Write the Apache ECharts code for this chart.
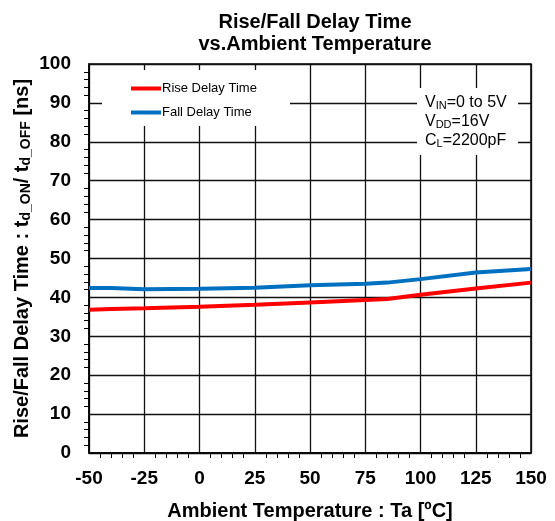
<!DOCTYPE html>
<html><head><meta charset="utf-8">
<script src="https://cdn.jsdelivr.net/npm/echarts@6/dist/echarts.min.js"></script>
<style>html,body{margin:0;padding:0;background:#fff}#c{width:555px;height:521px}</style>
</head><body><div id="c"></div>
<script>
const temps = [-50, -40, -25, 0, 25, 50, 75, 85, 100, 125, 150];
const riseDelay = [36.8, 37.0, 37.2, 37.6, 38.1, 38.7, 39.3, 39.6, 40.7, 42.3, 43.8];
const fallDelay = [42.4, 42.4, 42.1, 42.2, 42.5, 43.1, 43.5, 43.8, 44.7, 46.4, 47.3];
const seriesNames = ['Rise Delay Time', 'Fall Delay Time'];
const xTicks = [-50, -25, 0, 25, 50, 75, 100, 125, 150];
const yTicks = [0, 10, 20, 30, 40, 50, 60, 70, 80, 90, 100];

const chart = echarts.init(document.getElementById('c'));
const font = 'Liberation Sans, Arial, sans-serif';
chart.setOption({
  animation: false,
  title: {
    text: 'Rise/Fall Delay Time\nvs.Ambient Temperature',
    left: 310, top: 6, textAlign: 'center',
    textStyle: { fontFamily: font, fontWeight: 'bold', fontSize: 20, lineHeight: 22, color: '#000' }
  },
  grid: { left: 89, right: 24, top: 64, bottom: 68, outerBoundsMode: 'none', containLabel: false,
    show: true, borderColor: '#000', borderWidth: 1.5, backgroundColor: 'transparent' },
  legend: {
    data: seriesNames, orient: 'vertical', left: 126, top: 77, itemGap: 11,
    itemWidth: 30, itemHeight: 4, icon: 'rect', z: 10,
    textStyle: { fontFamily: font, fontSize: 13, color: '#000', padding: [0, 0, 0, -4] }
  },
  xAxis: {
    type: 'value', min: xTicks[0], max: xTicks[xTicks.length - 1], interval: 25,
    name: 'Ambient Temperature : Ta [\u00BAC]', nameLocation: 'middle', nameGap: 48,
    nameTextStyle: { fontFamily: font, fontWeight: 'bold', fontSize: 20, color: '#000' },
    axisLine: { onZero: false, lineStyle: { color: '#000', width: 1.5 } },
    axisTick: { show: false },
    minorTick: { show: true, splitNumber: 5, length: 5, lineStyle: { color: '#000' } },
    axisLabel: { fontFamily: font, fontWeight: 'bold', fontSize: 19, color: '#000', margin: 16 },
    splitLine: { show: true, lineStyle: { color: '#111', width: 1.3 } }
  },
  yAxis: {
    type: 'value', min: yTicks[0], max: yTicks[yTicks.length - 1], interval: 10,
    name: 'Rise/Fall Delay Time : t{s|d_ON}/ t{s|d_OFF} [ns]', nameLocation: 'middle', nameGap: 56,
    nameMoveOverlap: false,
    nameTextStyle: { fontFamily: font, fontWeight: 'bold', fontSize: 20, color: '#000',
      rich: { s: { fontFamily: font, fontWeight: 'bold', fontSize: 14, color: '#000', padding: [8, 0, 0, 0] } } },
    axisLine: { onZero: false, lineStyle: { color: '#000', width: 1.5 } },
    axisTick: { show: false },
    minorTick: { show: true, splitNumber: 5, length: 5, lineStyle: { color: '#000' } },
    axisLabel: { fontFamily: font, fontWeight: 'bold', fontSize: 19, color: '#000', margin: 18 },
    splitLine: { show: true, lineStyle: { color: '#111', width: 1.3 } }
  },
  graphic: [
    { type: 'rect', z: 5, shape: { x: 102, y: 70, width: 188, height: 56 }, style: { fill: '#fff' } },
    { type: 'rect', z: 5, shape: { x: 417, y: 88, width: 101, height: 67 }, style: { fill: '#fff' } },
    { type: 'text', z: 10, left: 425, top: 93,
      style: { text: 'V{s|IN}=0 to 5V\nV{s|DD}=16V\nC{s|L}=2200pF', font: '16px ' + font, fill: '#000', lineHeight: 19,
        rich: { s: { fontSize: 11, fontFamily: font, fill: '#000', padding: [6, 0, 0, 0] } } } }
  ],
  series: [
    { name: seriesNames[0], type: 'line', data: temps.map((t, i) => [t, riseDelay[i]]), symbol: 'none', smooth: false,
      lineStyle: { color: '#ff0000', width: 4 }, itemStyle: { color: '#ff0000' }, z: 3 },
    { name: seriesNames[1], type: 'line', data: temps.map((t, i) => [t, fallDelay[i]]), symbol: 'none', smooth: false,
      lineStyle: { color: '#0070c0', width: 4 }, itemStyle: { color: '#0070c0' }, z: 3 }
  ]
});
</script></body></html>
